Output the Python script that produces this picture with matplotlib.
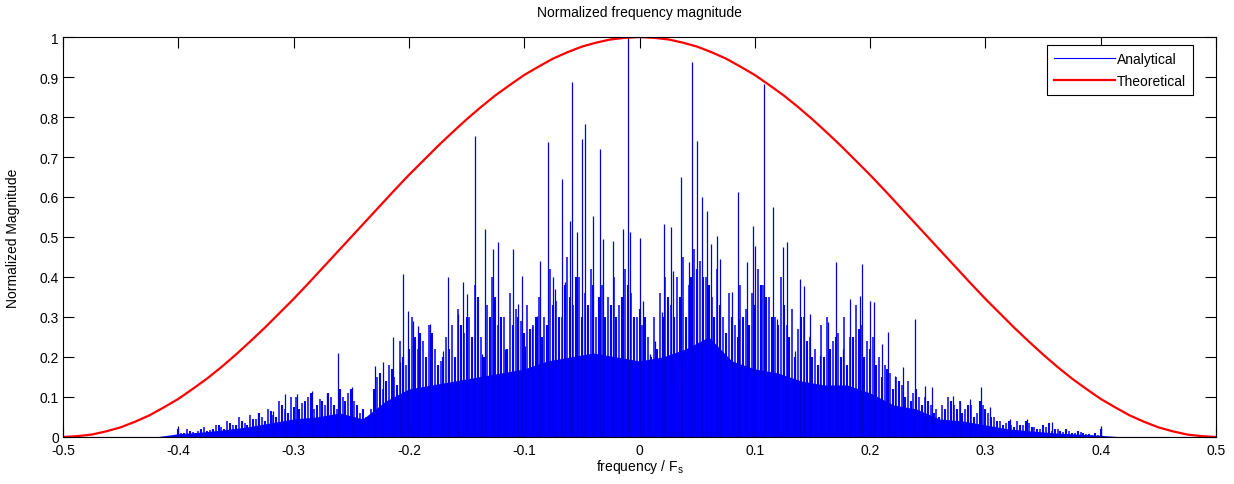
import numpy as np
import matplotlib.pyplot as plt
from matplotlib.lines import Line2D

plt.rcParams['font.family'] = ['Liberation Sans', 'DejaVu Sans']

# theoretical curve, read every 0.0125 (left half, mirrored)
theo_f = np.arange(-0.5, 0.50001, 0.0125)
theo_half = [0.0, 0.002, 0.006, 0.014, 0.024, 0.038, 0.054, 0.074, 0.095, 0.12,
             0.146, 0.175, 0.206, 0.239, 0.273, 0.309, 0.345, 0.383, 0.422, 0.461,
             0.5, 0.539, 0.578, 0.617, 0.655, 0.691, 0.727, 0.761, 0.794, 0.825,
             0.854, 0.88, 0.905, 0.926, 0.946, 0.962, 0.976, 0.986, 0.994, 0.998]
theo_mag = theo_half + [1.0] + theo_half[::-1]

# analytical spectrum: solid lower band (every 0.02)
floor_f = np.arange(-0.42, 0.4201, 0.02)
floor_mag = [0.0, 0.008, 0.012, 0.018, 0.025, 0.035, 0.045, 0.05, 0.06, 0.045,
             0.09, 0.12, 0.13, 0.14, 0.15, 0.16, 0.17, 0.19, 0.2, 0.21, 0.2,
             0.19, 0.2, 0.22, 0.25, 0.19, 0.17, 0.16, 0.14, 0.13, 0.13, 0.11,
             0.08, 0.07, 0.045, 0.04, 0.03, 0.02, 0.015, 0.01, 0.007, 0.004, 0.0]

# dense hash of spikes (every 0.005 from -0.4 to 0.4)
dense_f = np.arange(-0.4, 0.40001, 0.005)
dense_mag = [
    0.02, 0.01, 0.015, 0.01, 0.02, 0.015, 0.02, 0.03, 0.02, 0.035,
    0.03, 0.04, 0.03, 0.045, 0.06, 0.04, 0.065, 0.05, 0.08, 0.06, 0.075,
    0.07, 0.09, 0.11, 0.08, 0.09, 0.11, 0.08, 0.12, 0.09, 0.12,
    0.08, 0.07, 0.05, 0.12, 0.16, 0.14, 0.17, 0.13, 0.2, 0.22,
    0.25, 0.26, 0.2, 0.26, 0.18, 0.2, 0.22, 0.2, 0.28, 0.3,
    0.25, 0.35, 0.2, 0.3, 0.35, 0.3, 0.22, 0.28, 0.3, 0.26,
    0.27, 0.3, 0.25, 0.28, 0.33, 0.3, 0.38, 0.35, 0.4, 0.3,
    0.33, 0.38, 0.35, 0.3, 0.33, 0.3, 0.35, 0.38, 0.3, 0.32,
    0.3, 0.2, 0.22, 0.3, 0.35, 0.3, 0.35, 0.3, 0.4, 0.42,
    0.4, 0.38, 0.3, 0.33, 0.26, 0.3, 0.25, 0.3, 0.28, 0.33,
    0.38, 0.35, 0.3, 0.28, 0.33, 0.25, 0.2, 0.3, 0.24, 0.2,
    0.18, 0.2, 0.22, 0.25, 0.2, 0.18, 0.25, 0.27, 0.2, 0.22,
    0.18, 0.15, 0.17, 0.12, 0.14, 0.1, 0.09, 0.12, 0.08, 0.09,
    0.06, 0.05, 0.07, 0.09, 0.07, 0.06, 0.08, 0.05, 0.09, 0.07,
    0.05, 0.04, 0.03, 0.04, 0.025, 0.03, 0.04, 0.025, 0.02, 0.03,
    0.035, 0.02, 0.015, 0.02, 0.01, 0.015, 0.01, 0.008, 0.01, 0.02]

# second hash layer, in between (every 0.005 from -0.3975 to 0.3975)
dense2_f = np.arange(-0.3975, 0.39751, 0.005)
dense2_mag = [
    0.01, 0.02, 0.012, 0.015, 0.025, 0.018, 0.03, 0.025, 0.04, 0.03,
    0.05, 0.035, 0.055, 0.045, 0.05, 0.07, 0.055, 0.09, 0.07, 0.1,
    0.1, 0.085, 0.1, 0.07, 0.095, 0.08, 0.1, 0.07, 0.1, 0.11,
    0.09, 0.06, 0.05, 0.07, 0.15, 0.12, 0.18, 0.15, 0.24, 0.18,
    0.3, 0.22, 0.24, 0.28, 0.22, 0.19, 0.25, 0.28, 0.32, 0.26,
    0.3, 0.38, 0.25, 0.33, 0.4, 0.28, 0.3, 0.36, 0.32, 0.29,
    0.33, 0.28, 0.35, 0.3, 0.42, 0.34, 0.3, 0.45, 0.33, 0.4,
    0.36, 0.42, 0.3, 0.38, 0.35, 0.4, 0.33, 0.42, 0.36, 0.3,
    0.28, 0.25, 0.3, 0.36, 0.4, 0.33, 0.4, 0.45, 0.38, 0.47,
    0.44, 0.4, 0.35, 0.42, 0.3, 0.36, 0.28, 0.38, 0.32, 0.36,
    0.42, 0.38, 0.35, 0.3, 0.4, 0.28, 0.32, 0.27, 0.3, 0.25,
    0.22, 0.28, 0.3, 0.24, 0.26, 0.3, 0.25, 0.33, 0.28, 0.24,
    0.25, 0.2, 0.18, 0.16, 0.15, 0.13, 0.14, 0.11, 0.1, 0.1,
    0.08, 0.07, 0.08, 0.1, 0.08, 0.09, 0.07, 0.08, 0.06, 0.08,
    0.06, 0.05, 0.04, 0.035, 0.03, 0.04, 0.03, 0.035, 0.025, 0.02,
    0.025, 0.015, 0.02, 0.012, 0.015, 0.01, 0.012, 0.008, 0.006, 0.005]

# tall individual peaks
peak_f = [-0.4, -0.331, -0.318, -0.3075, -0.297, -0.284, -0.271, -0.2615, -0.249,
          -0.2294, -0.2225, -0.214, -0.2077, -0.2051, -0.2008, -0.1964, -0.192,
          -0.1817, -0.1704, -0.166, -0.1574, -0.153, -0.1496, -0.1427, -0.1366,
          -0.134, -0.127, -0.1227, -0.1166, -0.1097, -0.1054, -0.1019, -0.0993,
          -0.0932, -0.0889, -0.0863, -0.0794, -0.075, -0.0733, -0.0672, -0.0646,
          -0.0603, -0.0585, -0.0542, -0.05, -0.0473, -0.0403, -0.0343, -0.0317,
          -0.023, -0.0143, -0.01, -0.0082, 0.0004, 0.003, 0.0091, 0.0134, 0.0195,
          0.0213, 0.0273, 0.029, 0.0325, 0.036, 0.0369, 0.0429, 0.0455, 0.0499,
          0.0542, 0.0585, 0.062, 0.0672, 0.0698, 0.0802, 0.0854, 0.0863, 0.0932,
          0.0984, 0.1002, 0.108, 0.1158, 0.1193, 0.1245, 0.128, 0.1349, 0.1392,
          0.1427, 0.1479, 0.1566, 0.1635, 0.1704, 0.1765, 0.1826, 0.1913, 0.193,
          0.1999, 0.2034, 0.2103, 0.2155, 0.2216, 0.2285, 0.2389, 0.2476, 0.2537,
          0.2719, 0.278, 0.2866, 0.2962, 0.304, 0.3213, 0.336, 0.3578, 0.4]
peak_mag = [0.025, 0.06, 0.066, 0.107, 0.107, 0.116, 0.11, 0.21, 0.124,
            0.178, 0.187, 0.25, 0.187, 0.407, 0.316, 0.29, 0.278,
            0.283, 0.216, 0.399, 0.307, 0.387, 0.357, 0.753, 0.207,
            0.52, 0.47, 0.487, 0.22, 0.47, 0.333, 0.403, 0.228,
            0.274, 0.303, 0.441, 0.737, 0.399, 0.37, 0.645, 0.387,
            0.54, 0.887, 0.512, 0.745, 0.782, 0.553, 0.72, 0.495,
            0.49, 0.52, 1.0, 0.512, 0.497, 0.341, 0.207, 0.241, 0.312,
            0.532, 0.524, 0.416, 0.132, 0.649, 0.191, 0.437, 0.937, 0.741,
            0.599, 0.566, 0.483, 0.503, 0.445, 0.362, 0.612, 0.295, 0.437,
            0.528, 0.478, 0.882, 0.574, 0.295, 0.474, 0.487, 0.216, 0.395,
            0.378, 0.307, 0.203, 0.287, 0.437, 0.22, 0.345, 0.353, 0.433,
            0.341, 0.337, 0.232, 0.262, 0.153, 0.174, 0.295, 0.128, 0.124,
            0.103, 0.091, 0.095, 0.124, 0.074, 0.045, 0.045, 0.037, 0.025]

x_ticks = np.arange(-0.5, 0.5001, 0.1)
x_labels = ['-0.5', '-0.4', '-0.3', '-0.2', '-0.1', '0', '0.1', '0.2', '0.3', '0.4', '0.5']
y_ticks = np.arange(0, 1.0001, 0.1)
y_labels = ['0', '0.1', '0.2', '0.3', '0.4', '0.5', '0.6', '0.7', '0.8', '0.9', '1']

fig = plt.figure(figsize=(12.34, 4.85), dpi=100)
ax = fig.add_axes([0.051, 0.097, 0.9345, 0.8246])

blue = '#0000ff'
ax.plot([-0.5, 0.5], [0, 0], color=blue, lw=0.8)
ax.fill_between(floor_f, 0, floor_mag, color=blue, lw=0)
ax.vlines(dense_f, 0, dense_mag, color=blue, lw=1.5)
ax.vlines(dense2_f, 0, dense2_mag, color=blue, lw=1.1)
ax.vlines(peak_f, 0, peak_mag, color='#0000d8', lw=0.9)
ax.plot(theo_f, theo_mag, color='red', lw=1.6)

ax.set_xlim(-0.5, 0.5)
ax.set_ylim(0, 1)
ax.set_xticks(x_ticks)
ax.set_xticklabels(x_labels)
ax.set_yticks(y_ticks)
ax.set_yticklabels(y_labels)
ax.tick_params(direction='in', length=8, width=0.8, top=True, right=True,
               labelsize=10, pad=3)
ax.tick_params(axis='x', pad=4)
for s in ax.spines.values():
    s.set_linewidth(0.8)

ax.set_title('Normalized frequency magnitude', fontsize=10, pad=15)
ax.set_xlabel('frequency / F$\\mathregular{_s}$', fontsize=10, labelpad=0)
ax.set_ylabel('Normalized Magnitude', fontsize=10)
ax.yaxis.set_label_coords(-0.037, 0.5)

handles = [Line2D([], [], color=blue, lw=0.8, label='Analytical'),
           Line2D([], [], color='red', lw=1.6, label='Theoretical')]
leg = ax.legend(handles=handles, loc='upper right', bbox_to_anchor=(0.98, 0.98),
                borderaxespad=0, fancybox=False, edgecolor='black', framealpha=1,
                fontsize=10, handlelength=4.4, handletextpad=0.15, borderpad=0.5,
                labelspacing=0.55)
leg.get_frame().set_linewidth(0.8)

fig.savefig('out.png', dpi=100)
